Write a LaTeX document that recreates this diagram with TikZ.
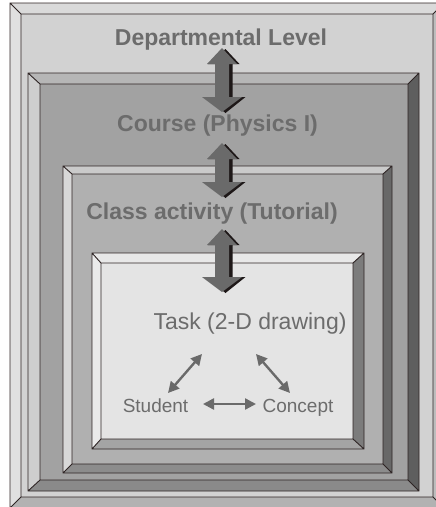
\documentclass[tikz,border=0pt]{standalone}
\usepackage{fontspec}
\setmainfont{Liberation Sans}
\usetikzlibrary{arrows.meta}

% frame colours: top, left, right, bottom bevels and the face
\definecolor{lv1top}{HTML}{DADADA}
\definecolor{lv1left}{HTML}{E0E0E0}
\definecolor{lv1right}{HTML}{BDBDBD}
\definecolor{lv1bot}{HTML}{B2B2B2}
\definecolor{lv1face}{HTML}{D2D2D2}
\definecolor{lv2top}{HTML}{B6B6B6}
\definecolor{lv2left}{HTML}{CECECE}
\definecolor{lv2right}{HTML}{5E5E5E}
\definecolor{lv2bot}{HTML}{8A8A8A}
\definecolor{lv2face}{HTML}{A2A2A2}
\definecolor{lv3top}{HTML}{CACACA}
\definecolor{lv3left}{HTML}{D8D8D8}
\definecolor{lv3right}{HTML}{686868}
\definecolor{lv3bot}{HTML}{8C8C8C}
\definecolor{lv3face}{HTML}{B0B0B0}
\definecolor{lv4top}{HTML}{E8E8E8}
\definecolor{lv4left}{HTML}{EAEAEA}
\definecolor{lv4right}{HTML}{7C7C7C}
\definecolor{lv4bot}{HTML}{A4A4A4}
\definecolor{lv4face}{HTML}{E4E4E4}
\definecolor{rimcol}{HTML}{2E2424}
\definecolor{labelgray}{HTML}{6C6C6C}
\definecolor{arrowgray}{HTML}{6A6A6A}
\definecolor{arrowdark}{HTML}{1E1818}

% beveled frame: outer box, face box, level number
\def\bevelbox(#1,#2,#3,#4)(#5,#6,#7,#8)#9{%
  \fill[lv#9top] (#1,#2) -- (#3,#2) -- (#7,#6) -- (#5,#6) -- cycle;
  \fill[lv#9left] (#1,#2) -- (#5,#6) -- (#5,#8) -- (#1,#4) -- cycle;
  \fill[lv#9right] (#3,#2) -- (#3,#4) -- (#7,#8) -- (#7,#6) -- cycle;
  \fill[lv#9bot] (#1,#4) -- (#5,#8) -- (#7,#8) -- (#3,#4) -- cycle;
  \fill[lv#9face] (#5,#6) rectangle (#7,#8);
  \draw[rim] (#1,#2) rectangle (#3,#4) (#5,#6) rectangle (#7,#8)
    (#1,#2) -- (#5,#6) (#3,#2) -- (#7,#6) (#1,#4) -- (#5,#8) (#3,#4) -- (#7,#8);
}

% thick double arrow with a dark side: centre x, top tip y, bottom tip y
\def\bigarrow(#1,#2,#3){%
  \begin{scope}[shift={(#1,0)}]
    \fill[arrowdark] (3.5,#2+1) -- (17.5,#2+16) -- (10.5,#2+16) -- (10.5,#3-15)
      -- (23.5,#3-15) -- (3.5,#3+1) -- (-16,#3-15) -- (-7,#3-15) -- (-7,#2+16)
      -- (-14,#2+16) -- cycle;
    \fill[arrowgray] (0,#2) -- (15,#2+16) -- (7,#2+16) -- (7,#3-15)
      -- (20,#3-15) -- (0,#3) -- (-20,#3-15) -- (-7,#3-15) -- (-7,#2+16)
      -- (-15,#2+16) -- cycle;
  \end{scope}
}

\tikzset{
  rim/.style={draw=rimcol, line width=0.9pt},
  levellabel/.style={anchor=base, text=labelgray, inner sep=0pt,
    font=\bfseries\fontsize{23}{27}\selectfont},
  tasklabel/.style={anchor=base, text=labelgray, inner sep=0pt,
    font=\fontsize{23}{27}\selectfont},
  smalllabel/.style={anchor=base, text=labelgray, inner sep=0pt,
    font=\fontsize{19}{23}\selectfont},
  link/.style={draw=arrowgray, line width=2.4pt,
    {Triangle[length=11pt,width=11pt]}-{Triangle[length=11pt,width=11pt]}}
}

\begin{document}
\begin{tikzpicture}[x=1pt,y=-1pt]
  \useasboundingbox (0,0) rectangle (436,507);
  \clip (0,0) rectangle (436,507);
  \fill[white] (0,0) rectangle (436,507);

  % nested levels
  \bevelbox(10,3,444,508)(21,14,433,497){1}
  \bevelbox(28,73,419,491)(40,84,408,480){2}
  \bevelbox(63,166,392,473)(72,174,383,464){3}
  \bevelbox(92,253,364,449)(101,263,353,439){4}

  % links between levels
  \bigarrow(222,48,112)
  \bigarrow(222,143,197)
  \bigarrow(222,229,292)

  % level names
  \node[levellabel] (dept) at (221,45) {Departmental Level};
  \node[levellabel] (course) at (217.5,131) {Course (Physics I)};
  \node[levellabel] (class) at (212,219) {Class activity (Tutorial)};
  \node[tasklabel] (task) at (250,329) {Task (2-D drawing)};

  % the task triangle
  \node[smalllabel] (student) at (155.5,412) {Student};
  \node[smalllabel] (concept) at (298,412) {Concept};
  \coordinate (taskL) at (202,354);
  \coordinate (taskR) at (256,354);
  \coordinate (studentT) at (168,393);
  \coordinate (conceptT) at (290,393);
  \coordinate (studentR) at (203,404);
  \coordinate (conceptL) at (256,404);

  \draw[link] (studentT) -- (taskL);
  \draw[link] (taskR) -- (conceptT);
  \draw[link] (studentR) -- (conceptL);
\end{tikzpicture}
\end{document}
